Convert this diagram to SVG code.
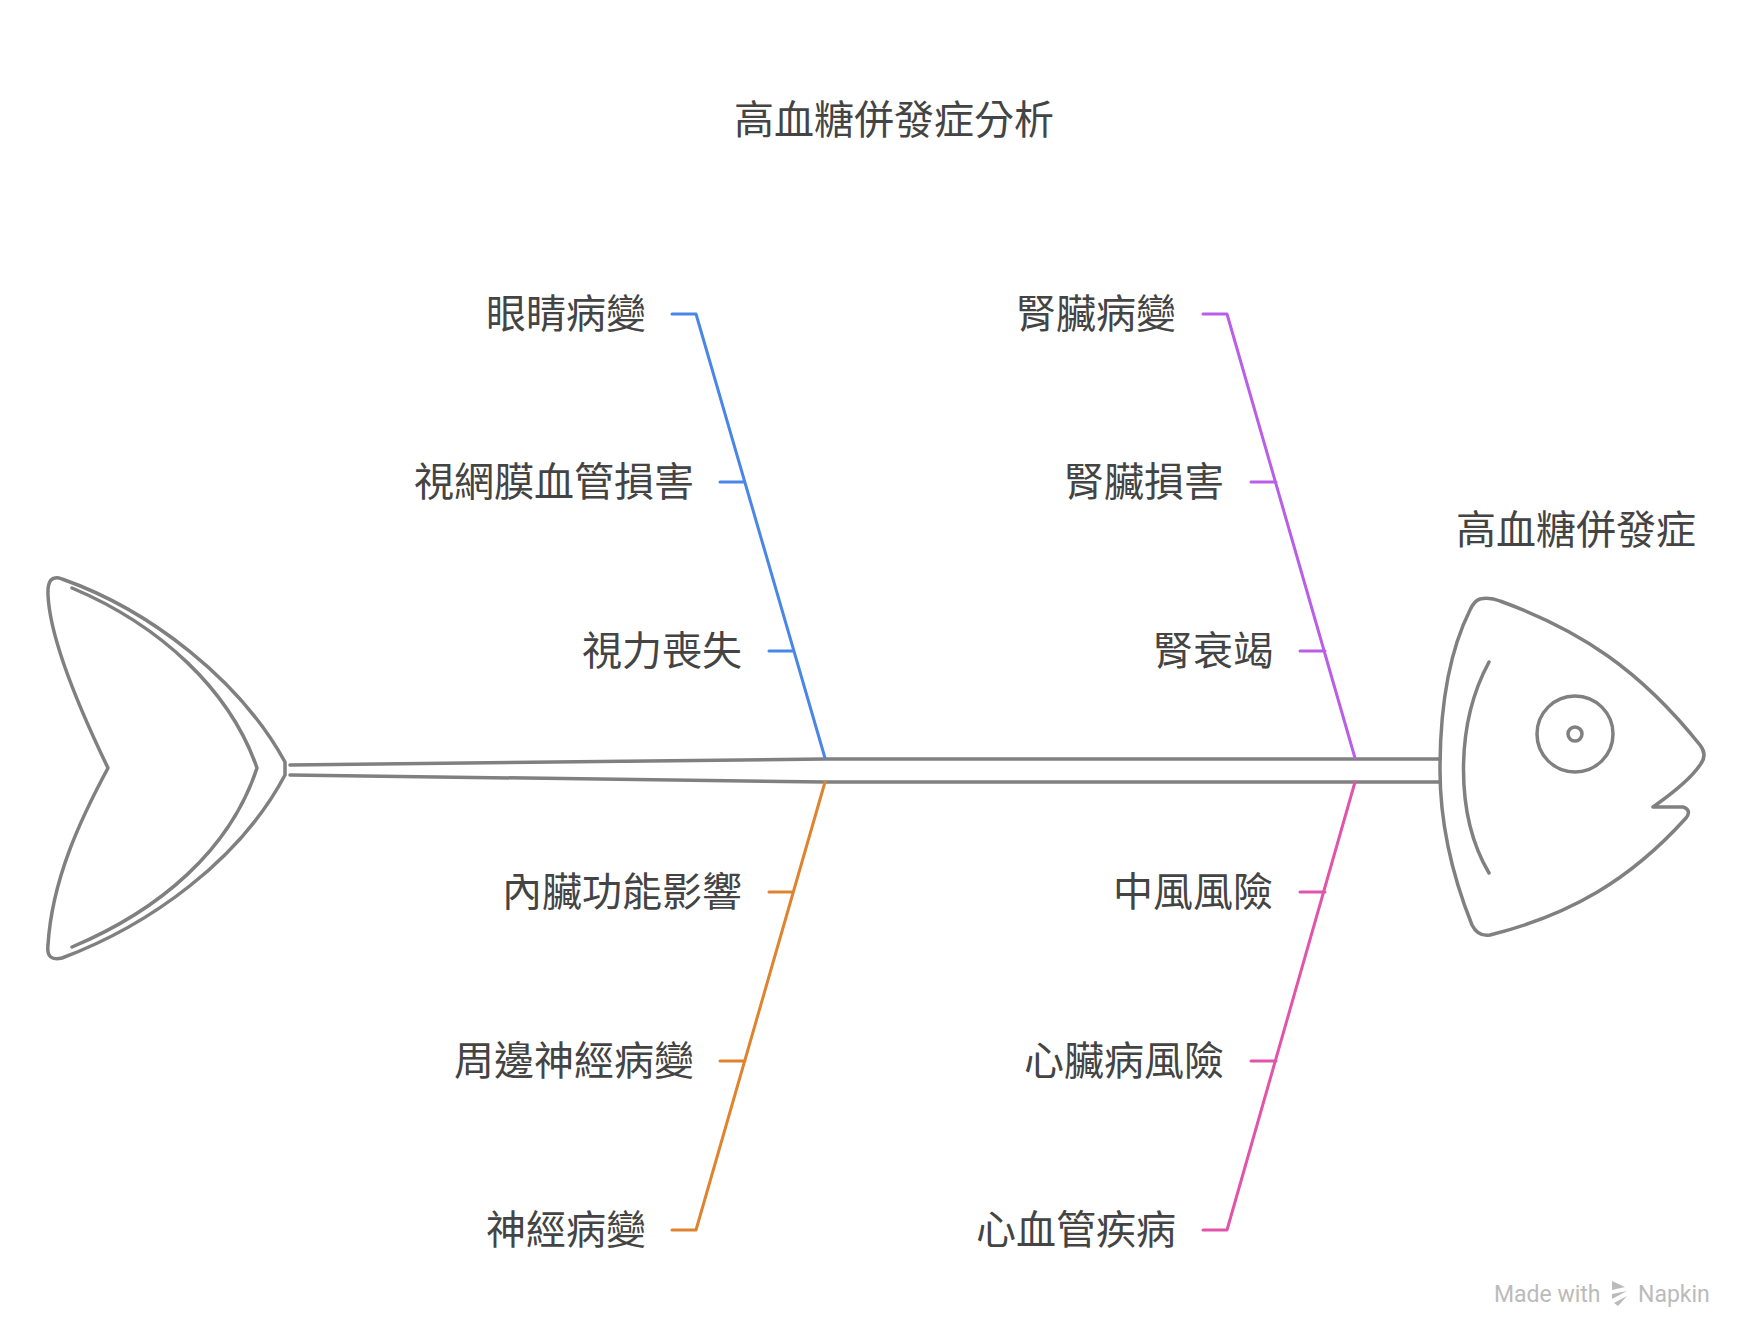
<svg xmlns="http://www.w3.org/2000/svg" width="1753" height="1344" viewBox="0 0 1753 1344">
<style>
.t{font-family:"Noto Sans CJK TC","Noto Sans CJK SC",sans-serif;font-size:40px;fill:#444}
.l{text-anchor:end}
.g{fill:none;stroke:#808080;stroke-width:3.5;stroke-linecap:round;stroke-linejoin:round}
.b{fill:none;stroke-width:3;stroke-linecap:round}
</style>
<rect width="1753" height="1344" fill="#fff"/>
<text class="t" x="894" y="134" text-anchor="middle">高血糖併發症分析</text>
<g id="tail">
<path class="g" d="M62,579 C150,610 240,680 285,762 L285,775 C240,860 150,925 62,958 Q46,962 48,945 C52,880 80,820 108,768 C80,710 50,640 48,595 Q47,573 62,579 Z"/>
<path class="g" d="M72,588 C160,625 230,690 257,768 C230,850 160,910 72,947"/>
</g>
<g id="spine">
<path class="g" d="M290,765 L825,759 L1440,759 M290,775 L825,782 L1440,782"/>
</g>
<g id="head">
<path class="g" d="M1480,599 Q1490,597 1500,601 C1580,630 1640,670 1700,745 Q1708,755 1700,765 C1690,780 1670,795 1653,807 L1683,807 Q1692,810 1686,818 C1630,880 1570,915 1490,935 Q1478,937 1472,925 C1450,870 1440,820 1440,770 C1440,700 1450,650 1470,610 Q1474,601 1480,599 Z"/>
<path class="g" d="M1489,662 C1455,725 1455,815 1489,873"/>
<circle class="g" cx="1575" cy="734" r="38"/>
<circle class="g" cx="1575" cy="734" r="7"/>
<text class="t" x="1576" y="544" text-anchor="middle">高血糖併發症</text>
</g>
<g id="connectors">
<path class="b" stroke="#4a86e8" d="M825,758 L696,314 M672,314 L696,314 M720,482 L745,482 M769,651 L794,651"/>
<path class="b" stroke="#e0832f" d="M825,782 L696,1230 M672,1230 L696,1230 M720,1061 L745,1061 M769,892 L793,892"/>
<path class="b" stroke="#b95ee8" d="M1355,758 L1227,314 M1203,314 L1227,314 M1251,482 L1276,482 M1300,651 L1325,651"/>
<path class="b" stroke="#e055aa" d="M1355,782 L1227,1230 M1203,1230 L1227,1230 M1251,1061 L1276,1061 M1300,892 L1325,892"/>
</g>
<g id="n1"><text class="t l" x="646" y="328">眼睛病變</text></g>
<g id="n2"><text class="t l" x="694" y="496">視網膜血管損害</text></g>
<g id="n3"><text class="t l" x="742" y="665">視力喪失</text></g>
<g id="n4"><text class="t l" x="742" y="906">內臟功能影響</text></g>
<g id="n5"><text class="t l" x="694" y="1075">周邊神經病變</text></g>
<g id="n6"><text class="t l" x="646" y="1244">神經病變</text></g>
<g id="n7"><text class="t l" x="1176" y="328">腎臟病變</text></g>
<g id="n8"><text class="t l" x="1224" y="496">腎臟損害</text></g>
<g id="n9"><text class="t l" x="1273" y="665">腎衰竭</text></g>
<g id="n10"><text class="t l" x="1273" y="906">中風風險</text></g>
<g id="n11"><text class="t l" x="1224" y="1075">心臟病風險</text></g>
<g id="n12"><text class="t l" x="1176" y="1244">心血管疾病</text></g>
<g id="watermark" fill="#bbb">
<text x="1494" y="1302" font-family="Roboto,sans-serif" font-size="23">Made with</text>
<path d="M1612,1281 l13,6 l-13,3 z M1612,1294 l15,-3 l-15,8 z M1614,1303 l13,-7 l-9,10 z"/>
<text x="1638" y="1302" font-family="Roboto,sans-serif" font-size="23">Napkin</text>
</g>
</svg>
